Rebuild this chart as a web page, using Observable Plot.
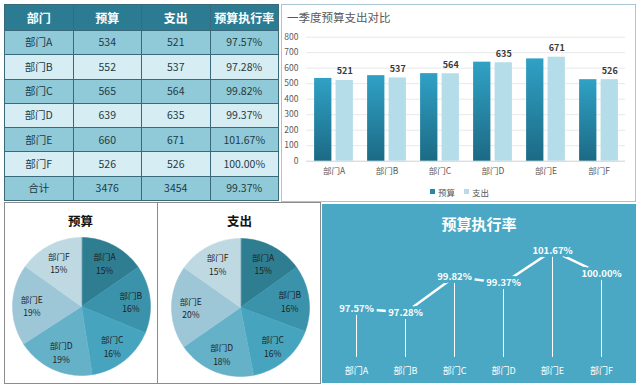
<!DOCTYPE html>
<html><head><meta charset="utf-8">
<script src="https://cdn.jsdelivr.net/npm/d3@7"></script>
<script src="https://cdn.jsdelivr.net/npm/@observablehq/plot@0.6"></script>
<style>
body{margin:0;background:#fff;font-family:"Noto Sans CJK SC",sans-serif;}
#root{position:relative;width:640px;height:387px;overflow:hidden;background:#fff;}
.abs{position:absolute;}
#tbl table{border-collapse:collapse;width:100%;height:100%;table-layout:fixed;}
#tbl td,#tbl th{border:1px solid #3a6a79;text-align:center;font-size:10.5px;color:#1e3a44;padding:0;line-height:1;}
#tbl th{background:#2b7c92;color:#fff;font-size:12px;font-weight:bold;}
.ttl{position:absolute;text-align:center;white-space:nowrap;}
</style></head>
<body><div id="root">
<svg width="0" height="0" style="position:absolute"><defs>
<linearGradient id="gBud" x1="0" y1="0" x2="0" y2="1"><stop offset="0" stop-color="#30a1c5"/><stop offset="1" stop-color="#1c6a85"/></linearGradient>
</defs></svg>
<div id="tbl" class="abs" style="left:4px;top:4px;width:275px;height:197px"></div>
<div class="abs" style="left:281px;top:4px;width:353px;height:196px;border:1px solid #a8c5d6;"></div>
<div class="ttl" style="left:287px;top:9px;font-size:11.5px;color:#595959;">一季度预算支出对比</div>
<div id="bar" class="abs" style="left:281px;top:20px;"></div>
<div id="legend" class="abs" style="left:430px;top:184px;font-size:8.5px;color:#595959;white-space:nowrap;"></div>
<div class="abs" style="left:4px;top:202px;width:315px;height:180px;border:1px solid #8c8c8c;"></div>
<div class="abs" style="left:157px;top:202px;width:1px;height:181px;background:#8c8c8c;"></div>
<div class="ttl" style="left:4px;width:153px;top:211px;font-size:12.5px;font-weight:bold;color:#111;">预算</div>
<div class="ttl" style="left:158px;width:163px;top:211px;font-size:12.5px;font-weight:bold;color:#111;">支出</div>
<div id="pie1" class="abs" style="left:11.5px;top:237px;"></div>
<div id="pie2" class="abs" style="left:171px;top:238px;"></div>
<div class="abs" style="left:322px;top:204px;width:314px;height:179px;background:#4aa8c4;"></div>
<div class="ttl" style="left:322px;width:314px;top:213px;font-size:15px;font-weight:bold;color:#fff;">预算执行率</div>
<div id="line" class="abs" style="left:322px;top:204px;"></div>
</div>
<script>
const FONT = "'Noto Sans CJK SC', sans-serif";
const depts = ["部门A","部门B","部门C","部门D","部门E","部门F"];
const budget = [534,552,565,639,660,526];
const spend = [521,537,564,635,671,526];
const rate = [97.57,97.28,99.82,99.37,101.67,100.00];
const budgetPct = ["15%","16%","16%","19%","19%","15%"];
const spendPct = ["15%","16%","16%","18%","20%","15%"];
const headers = ["部门","预算","支出","预算执行率"];
const totals = ["合计","3476","3454","99.37%"];
const yTicks = [0,100,200,300,400,500,600,700,800];
const pieColors = ["#2f7d91","#3a93ab","#47a4bf","#65b1c8","#9dc7d7","#bfd9e3"];
const seriesNames = ["预算","支出"];
const seriesColors = ["#2688a8","#b5dde9"];

const rows = depts.map((d,i)=>({dept:d,budget:budget[i],spend:spend[i],rate:rate[i]}));

// Table
{
  let h = '<table><tr style="height:26px">' + headers.map(t=>`<th>${t}</th>`).join("") + '</tr>';
  const body = rows.map(r=>[r.dept,String(r.budget),String(r.spend),r.rate.toFixed(2)+"%"]).concat([totals]);
  body.forEach((cells,i)=>{
    const bg = i%2===0 ? "#90cad9" : "#d6edf3";
    h += `<tr style="background:${bg}">` + cells.map(c=>`<td>${c}</td>`).join("") + '</tr>';
  });
  h += '</table>';
  document.getElementById("tbl").innerHTML = h;
}

// Bar chart
const bandInsetNear = 7.1, bandInsetFar = 28.6;
document.getElementById("bar").append(Plot.plot({
  width:354, height:165,
  marginLeft:25, marginRight:10, marginTop:16.7, marginBottom:24.3,
  style:{background:"transparent", fontFamily:FONT, fontSize:"8.5px", color:"#595959", overflow:"visible"},
  x:{domain:depts, padding:0, label:null, tickSize:0, tickPadding:7},
  y:{domain:[0,800], ticks:yTicks, label:null, tickSize:0, tickPadding:8},
  marks:[
    Plot.ruleY(yTicks.filter(t=>t>0), {stroke:"#e8e8e8"}),
    Plot.ruleY([0], {stroke:"#d0d0d0"}),
    Plot.barY(rows, {x:"dept", y:"budget", fill:"url(#gBud)", insetLeft:bandInsetNear, insetRight:bandInsetFar}),
    Plot.barY(rows, {x:"dept", y:"spend", fill:seriesColors[1], insetLeft:bandInsetFar, insetRight:bandInsetNear}),
    Plot.text(rows, {x:"dept", y:"spend", text:d=>String(d.spend), dx:10.75, dy:-9, fontWeight:"bold", fontSize:9, fill:"#3a3a3a"})
  ]
}));
document.getElementById("legend").innerHTML = seriesNames.map((s,i)=>
  `<span style="display:inline-block;width:5px;height:5px;background:${seriesColors[i]};margin-right:3px;vertical-align:middle"></span><span style="margin-right:9px;vertical-align:middle">${s}</span>`).join("");

// Pies
function pieParts(vals, pcts){
  const total = d3.sum(vals);
  let a0 = 0; const pts = []; const labs = [];
  vals.forEach((v,i)=>{
    const a1 = a0 + v/total*2*Math.PI;
    pts.push({name:depts[i], x:0, y:0});
    const n = Math.max(2, Math.ceil((a1-a0)/0.02));
    for(let k=0;k<=n;k++){const a=a0+(a1-a0)*k/n; pts.push({name:depts[i], x:Math.sin(a), y:Math.cos(a)});}
    const am = (a0+a1)/2;
    labs.push({name:depts[i], x:0.72*Math.sin(am), y:0.72*Math.cos(am), label:depts[i]+"\n"+pcts[i]});
    a0 = a1;
  });
  return {pts, labs};
}
function pie(vals, pcts){
  const {pts, labs} = pieParts(vals, pcts);
  return Plot.plot({
    width:138, height:138, margin:0,
    style:{background:"transparent", fontFamily:FONT, overflow:"visible"},
    x:{domain:[-1,1], axis:null}, y:{domain:[-1,1], axis:null},
    color:{domain:depts, range:pieColors},
    marks:[
      Plot.line(pts, {x:"x", y:"y", z:"name", fill:"name", stroke:"name", strokeWidth:0.5, curve:"linear-closed"}),
      Plot.text(labs, {x:"x", y:"y", text:"label", fontSize:8.5, lineHeight:1.6, fill:"#1e1e1e"})
    ]
  });
}
document.getElementById("pie1").append(pie(budget, budgetPct));
document.getElementById("pie2").append(pie(spend, spendPct));

// Line chart
const yBase = 94.1;
document.getElementById("line").append(Plot.plot({
  width:314, height:180,
  marginLeft:34, marginRight:35, marginTop:34.5, marginBottom:27.1,
  style:{background:"transparent", color:"#fff", fontFamily:FONT, fontSize:"9px", overflow:"visible"},
  x:{type:"point", domain:depts, padding:0, label:null, tickSize:0, tickPadding:10},
  y:{domain:[yBase,102.5], axis:null},
  marks:[
    Plot.ruleX(rows, {x:"dept", y1:"rate", y2:yBase, stroke:"#fff", strokeWidth:1}),
    Plot.line(rows, {x:"dept", y:"rate", stroke:"#fff", strokeWidth:2.5}),
    Plot.text(rows, {x:"dept", y:"rate", text:d=>d.rate.toFixed(2)+"%", fill:"#fff", stroke:"#4aa8c4", strokeWidth:6, fontWeight:"bold", fontSize:9.5})
  ]
}));
</script>
</body></html>
